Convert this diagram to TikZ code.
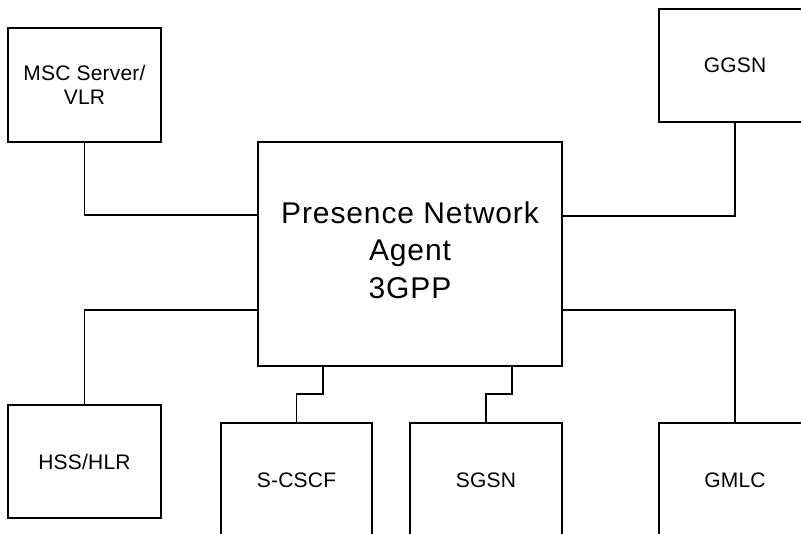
\documentclass[tikz,border=0pt]{standalone}
\usepackage{fontspec}
\setmainfont{Liberation Sans}
\newfontfamily\smallfont[LetterSpace=1]{Liberation Sans}
\newfontfamily\bigfont[LetterSpace=3]{Liberation Sans}
\begin{document}
\begin{tikzpicture}[x=1pt,y=-1pt,
  netbox/.style={draw=black, line width=1.6pt, fill=white, inner sep=0pt, align=center,
    font=\smallfont\fontsize{21}{23.3}\selectfont},
  link/.style={draw=black, line width=1.6pt}]
\useasboundingbox (0,0) rectangle (801,534);
\clip (0,0) rectangle (801,534);
\fill[white] (0,0) rectangle (801,534);
% nodes
\node[netbox, minimum width=153pt, minimum height=114pt] (msc) at (84.5,85) {MSC Server/\\VLR};
\node[netbox, minimum width=152pt, minimum height=113pt] (ggsn) at (735,65.5) {GGSN};
\node[netbox, minimum width=304pt, minimum height=224pt] (pna) at (410,254) {};
\node[align=center, inner sep=0pt, font=\bigfont\fontsize{30}{37.5}\selectfont] (pnatext) at (410,250) {Presence Network\\Agent\\3GPP};
\node[netbox, minimum width=153pt, minimum height=113pt] (hss) at (84.5,461.5) {HSS/HLR};
\node[netbox, minimum width=151pt, minimum height=114pt] (scscf) at (296.5,480) {S-CSCF};
\node[netbox, minimum width=152pt, minimum height=114pt] (sgsn) at (486,480) {SGSN};
\node[netbox, minimum width=152pt, minimum height=114pt] (gmlc) at (735,480) {GMLC};
% connectors
\draw[link] (msc.south) |- (pna.west |- 0,215);
\draw[link] (ggsn.south) |- (pna.east |- 0,216);
\draw[link] (pna.west |- 0,310) -| (hss.north);
\draw[link] (pna.east |- 0,310) -| (gmlc.north);
\draw[link] (pna.south -| 323,0) -- (323,394) -| (scscf.north);
\draw[link] (pna.south -| 512,0) -- (512,394) -| (sgsn.north);
\end{tikzpicture}
\end{document}
